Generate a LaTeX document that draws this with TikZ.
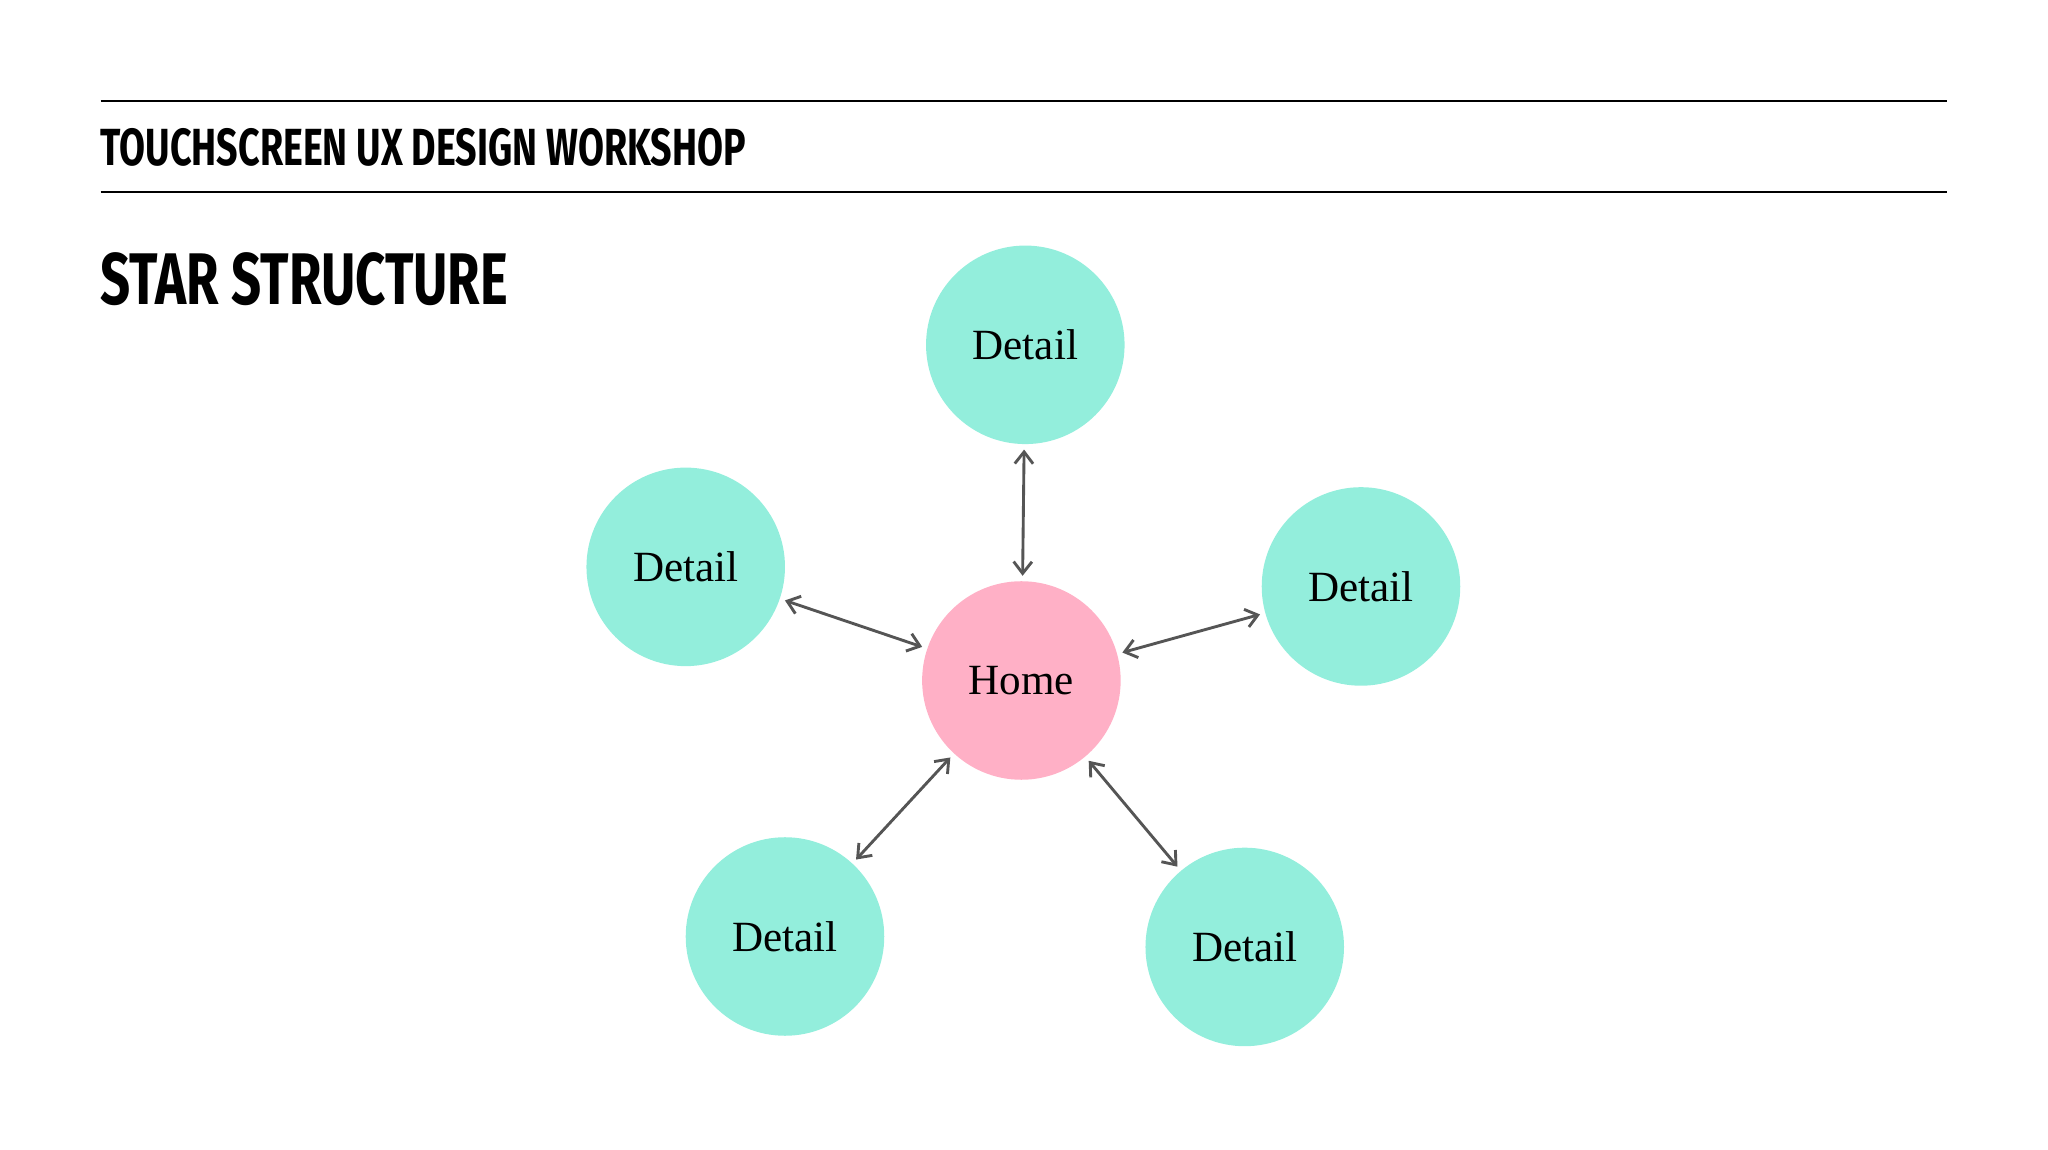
\documentclass[tikz,border=0pt]{standalone}
\usepackage{fontspec}
\setmainfont{Liberation Serif}
\newfontfamily\headfont{Fira Sans}
\usetikzlibrary{arrows.meta}
\begin{document}
\begin{tikzpicture}[x=1pt,y=-1pt,
  detail/.style={circle,fill=detailc,minimum size=152pt,inner sep=0pt,font=\fontsize{33}{33}\selectfont},
  home/.style={circle,fill=homec,minimum size=152pt,inner sep=0pt,font=\fontsize{33}{33}\selectfont},
  link/.style={draw=linkc,line width=2.2pt,{Straight Barb[length=9pt,width=14pt]}-{Straight Barb[length=9pt,width=14pt]},shorten <=4pt,shorten >=4pt}]
\definecolor{detailc}{HTML}{93EEDC}
\definecolor{homec}{HTML}{FFB0C6}
\definecolor{linkc}{HTML}{555555}
\useasboundingbox (0,0) rectangle (1568,880);
\draw[line width=1.5pt] (77,77) -- (1491,77);
\draw[line width=1.5pt] (77,147) -- (1491,147);
\node[anchor=west,inner sep=0pt] (t1) at (77,113) {\scalebox{0.72}[1]{\headfont\bfseries\fontsize{40}{40}\selectfont TOUCHSCREEN UX DESIGN WORKSHOP}};
\node[anchor=west,inner sep=0pt] (t2) at (77,214) {\scalebox{0.72}[1]{\headfont\bfseries\fontsize{56}{56}\selectfont STAR STRUCTURE}};
\node[home] (h) at (782,521) {Home};
\node[detail] (d1) at (785,264) {Detail};
\node[detail] (d2) at (525,434) {Detail};
\node[detail] (d3) at (1042,449) {Detail};
\node[detail] (d4) at (601,717) {Detail};
\node[detail] (d5) at (953,725) {Detail};
\foreach \d in {d1,d2,d3,d4,d5} \draw[link] (h) -- (\d);
\end{tikzpicture}
\end{document}
